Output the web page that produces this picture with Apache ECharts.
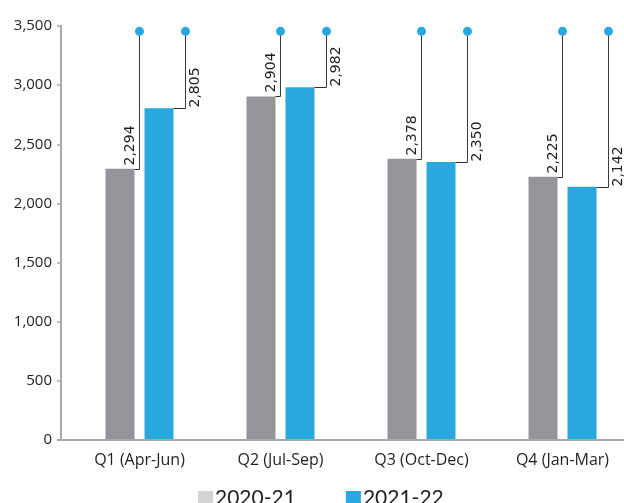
<!DOCTYPE html>
<html>
<head>
<meta charset="utf-8">
<script src="https://cdn.jsdelivr.net/npm/echarts@6/dist/echarts.min.js"></script>
<style>
  html, body { margin: 0; padding: 0; background: #fff; }
  #chart { width: 624px; height: 503px; }
</style>
</head>
<body>
<div id="chart"></div>
<script>
// Quarterly figures, two financial years
const categories = ['Q1 (Apr-Jun)', 'Q2 (Jul-Sep)', 'Q3 (Oct-Dec)', 'Q4 (Jan-Mar)'];
const seriesNames = ['2020-21', '2021-22'];
const values2020_21 = [2294, 2904, 2378, 2225];
const values2021_22 = [2805, 2982, 2350, 2142];
const yMin = 0;
const yMax = 3500;
const yStep = 500;
// height on the value scale where the callout dots sit
const calloutLevel = 3455;

const GRAY = '#939598';
const BLUE = '#29a8e0';
const AXIS = '#a7a9ac';
const INK = '#231f20';
const BAR_W = 29;
const BAR_GAP = 10;

const fmt = v => v.toLocaleString('en-US');

// Leader line + dot + rotated value label for one series
function calloutRenderer(side) {
  return function (params, api) {
    const i = api.value(0);
    const v = api.value(1);
    const p = api.coord([i, v]);
    const cx = p[0];
    const top = Math.round(p[1]) + 0.5;
    const dotY = api.coord([i, calloutLevel])[1];
    let barRight, lineX;
    if (side === 0) {
      barRight = cx - BAR_GAP / 2;
      lineX = Math.round(barRight + 4) + 0.5;
    } else {
      barRight = cx + BAR_GAP / 2 + BAR_W;
      lineX = Math.round(barRight + 11) + 0.5;
    }
    const labelStyle = { text: fmt(v), fontFamily: 'DejaVu Sans', fontSize: 14, fill: INK, align: 'left' };
    const text = side === 0
      ? { type: 'text', x: lineX - 2, y: top - 4, rotation: Math.PI / 2,
          style: Object.assign({}, labelStyle, { verticalAlign: 'bottom' }) }
      : { type: 'text', x: lineX + 3, y: top - 1, rotation: Math.PI / 2,
          style: Object.assign({}, labelStyle, { verticalAlign: 'top' }) };
    return {
      type: 'group',
      children: [
        { type: 'line', shape: { x1: barRight, y1: top, x2: lineX, y2: top }, style: { stroke: '#2e2e2e', lineWidth: 1 } },
        { type: 'line', shape: { x1: lineX, y1: top, x2: lineX, y2: dotY }, style: { stroke: '#3c3c3c', lineWidth: 1 } },
        { type: 'circle', shape: { cx: lineX, cy: dotY, r: 4.5 }, style: { fill: BLUE } },
        text
      ]
    };
  };
}

const chart = echarts.init(document.getElementById('chart'), null, { renderer: 'canvas' });

chart.setOption({
  animation: false,
  backgroundColor: '#fff',
  grid: { left: 69, top: 26, height: 414, right: -9, outerBoundsMode: 'none', containLabel: false },
  legend: {
    left: 198,
    top: 488,
    padding: 0,
    itemWidth: 15,
    itemHeight: 15,
    itemGap: 50,
    icon: 'rect',
    textStyle: { fontFamily: 'Lato', fontSize: 21, color: INK, padding: [0, 0, 0, -3] },
    data: [
      { name: seriesNames[0], itemStyle: { color: '#d1d3d4' } },
      { name: seriesNames[1], itemStyle: { color: BLUE } }
    ]
  },
  xAxis: {
    type: 'category',
    data: categories,
    axisLine: { show: false },
    axisTick: { show: false },
    axisLabel: { margin: 12, fontFamily: 'Open Sans', fontSize: 16, color: INK }
  },
  yAxis: {
    type: 'value',
    min: yMin,
    max: yMax,
    interval: yStep,
    offset: 8,
    splitLine: { show: false },
    axisLine: { show: true, lineStyle: { color: AXIS, width: 2 } },
    axisTick: { show: true, length: 4, lineStyle: { color: AXIS, width: 1.5 } },
    axisLabel: { margin: 9, fontFamily: 'Open Sans', fontSize: 15, color: INK, formatter: fmt }
  },
  series: [
    {
      name: seriesNames[0], type: 'bar', data: values2020_21,
      barWidth: BAR_W, barGap: (BAR_GAP / BAR_W * 100) + '%',
      itemStyle: { color: GRAY }
    },
    {
      name: seriesNames[1], type: 'bar', data: values2021_22,
      barWidth: BAR_W,
      itemStyle: { color: BLUE }
    },
    {
      name: 'callout-a', type: 'custom', z: 5,
      data: values2020_21.map((v, i) => [i, v]),
      renderItem: calloutRenderer(0)
    },
    {
      name: 'callout-b', type: 'custom', z: 5,
      data: values2021_22.map((v, i) => [i, v]),
      renderItem: calloutRenderer(1)
    }
  ]
});

// Horizontal base axis spanning from the y-axis ticks to the right edge
const y0 = chart.convertToPixel({ yAxisIndex: 0 }, 0);
chart.setOption({
  graphic: [{
    type: 'line', z: 10,
    shape: { x1: 57, y1: y0, x2: 624, y2: y0 },
    style: { stroke: AXIS, lineWidth: 2 }
  }]
});
</script>
</body>
</html>
